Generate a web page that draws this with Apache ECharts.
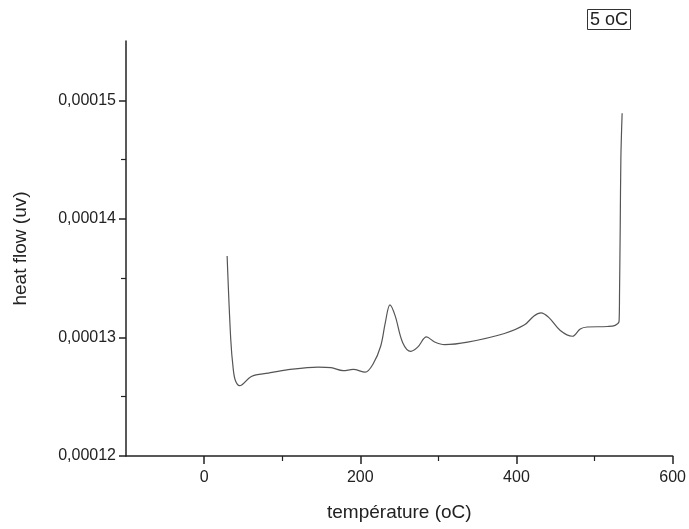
<!DOCTYPE html>
<html><head><meta charset="utf-8">
<script src="https://cdn.jsdelivr.net/npm/echarts@6/dist/echarts.min.js"></script>
<style>html,body{margin:0;padding:0;background:#fff}#c{width:689px;height:529px}</style>
</head><body><div id="c"></div>
<script>
const temperature = [29.5, 34.1, 37.3, 40.2, 45.5, 60.5, 82.2, 107.8, 146, 162.6, 178.1, 190.9, 206.3, 216.4, 226.2, 232, 238, 244.6, 254.2, 264.7, 273.5, 284.8, 295.2, 308.1, 337.4, 384.6, 409.9, 422.4, 431.4, 441.6, 456.1, 471.6, 481.7, 490.6, 516.2, 526.4, 531.4, 532, 532.9, 533.7, 535.3];
const heatFlow = [13.687, 12.987, 12.735, 12.634, 12.593, 12.671, 12.699, 12.728, 12.750, 12.745, 12.720, 12.730, 12.707, 12.776, 12.928, 13.123, 13.275, 13.184, 12.958, 12.883, 12.918, 13.004, 12.962, 12.939, 12.960, 13.033, 13.104, 13.181, 13.207, 13.167, 13.059, 13.010, 13.071, 13.088, 13.092, 13.102, 13.136, 13.389, 13.954, 14.510, 14.891].map(v => v * 1e-5);
const xTicks = [0, 200, 400, 600];
const xMinorTicks = [100, 300, 500];
const yTicks = [0.00012, 0.00013, 0.00014, 0.00015];
const yMinorTicks = [0.000125, 0.000135, 0.000145];
const legendLabel = '5 oC';

const font = 'Liberation Sans, Arial, sans-serif';
const ink = '#222';
const chart = echarts.init(document.getElementById('c'));
chart.setOption({
  animation: false,
  title: {
    text: legendLabel, left: 587, top: 9,
    padding: [2, 3, 1, 3], borderColor: '#333', borderWidth: 1,
    textStyle: { fontFamily: font, fontSize: 18, fontWeight: 'normal', color: ink }
  },
  grid: { left: 126, right: 16, top: 41, bottom: 73 },
  xAxis: [{
    type: 'value', min: -100, max: 600,
    name: 'température (oC)', nameLocation: 'middle', nameGap: 47,
    nameTextStyle: { fontFamily: font, fontSize: 19, color: ink },
    axisLine: { onZero: false, lineStyle: { color: ink, width: 1.5 } },
    axisTick: { length: 8, lineStyle: { color: ink, width: 1.5 }, customValues: xTicks },
    axisLabel: { margin: 14, fontFamily: font, fontSize: 16, color: ink, customValues: xTicks },
    splitLine: { show: false }
  }, {
    type: 'value', min: -100, max: 600, position: 'bottom', offset: 0,
    axisLine: { show: false, onZero: false },
    axisTick: { length: 5, lineStyle: { color: ink, width: 1.2 }, customValues: xMinorTicks },
    axisLabel: { show: false }, splitLine: { show: false }
  }],
  yAxis: [{
    type: 'value', min: 0.00012, max: 0.000155,
    name: 'heat flow (uv)', nameLocation: 'middle', nameGap: 96,
    nameTextStyle: { fontFamily: font, fontSize: 19, color: ink },
    axisLine: { show: true, onZero: false, lineStyle: { color: ink, width: 1.5 } },
    axisTick: { show: true, length: 7, lineStyle: { color: ink, width: 1.5 }, customValues: yTicks },
    axisLabel: { margin: 10, fontFamily: font, fontSize: 16, color: ink, customValues: yTicks,
      formatter: v => v.toFixed(5).replace('.', ',') },
    splitLine: { show: false }
  }, {
    type: 'value', min: 0.00012, max: 0.000155, position: 'left', offset: 0,
    axisLine: { show: false, onZero: false },
    axisTick: { show: true, length: 5, lineStyle: { color: ink, width: 1.2 }, customValues: yMinorTicks },
    axisLabel: { show: false }, splitLine: { show: false }
  }],
  series: [{
    type: 'line', xAxisIndex: 0, yAxisIndex: 0,
    data: temperature.map((t, i) => [t, heatFlow[i]]),
    showSymbol: false, smooth: 0.35,
    lineStyle: { color: '#555', width: 1.2 }
  }]
});
</script></body></html>
